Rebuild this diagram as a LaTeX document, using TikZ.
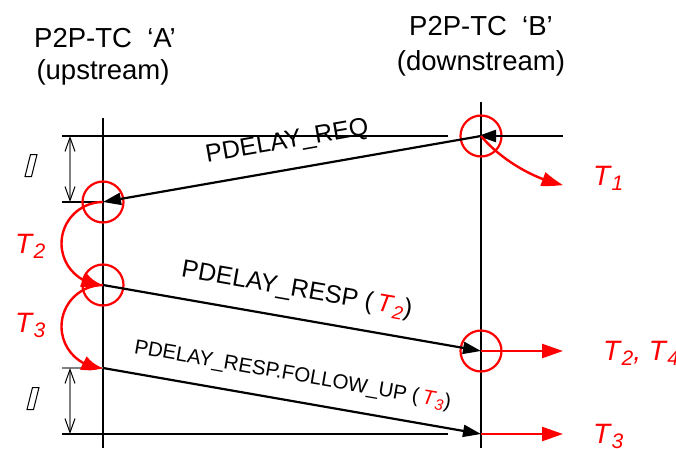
\documentclass[tikz,border=0pt]{standalone}
\usepackage{fontspec}
\setmainfont{Liberation Sans}
\usepackage{graphicx}
\usetikzlibrary{arrows.meta,bending}

% italic timestamp with a lowered, reduced index
\newcommand\tsub[2]{\textit{#1\kern0.05em\raisebox{-0.2em}{\scalebox{0.75}{#2}}}}

\begin{document}
\begin{tikzpicture}[x=1pt,y=1pt,
  lifeline/.style={line width=2pt},
  msgline/.style={line width=2.2pt, -{Triangle[length=18pt,width=12pt]}},
  thinline/.style={line width=1.1pt},
  dimline/.style={line width=1.2pt, gray,
    {Straight Barb[length=14pt,width=10pt,black,line width=1pt]}-{Straight Barb[length=14pt,width=10pt,black,line width=1pt]}},
  evt/.style={circle, draw=red, line width=2.2pt, minimum size=41pt, inner sep=0pt},
  stamp/.style={red, line width=2.4pt, -{Triangle[length=21pt,width=14pt]}},
  bentstamp/.style={red, line width=2.4pt, -{Triangle[length=21pt,width=14pt,bend]}},
  stamplabel/.style={red, font=\fontsize{28}{30}\selectfont, inner sep=0pt, anchor=base west},
  title/.style={font=\fontsize{27.5}{30}\selectfont, inner sep=0pt, anchor=base},
  msglabel/.style={font=\fontsize{25}{28}\selectfont, inner sep=0pt, sloped, anchor=base},
  smallmsglabel/.style={msglabel, font=\fontsize{20.5}{24}\selectfont},
  gapmark/.style={draw, line width=1pt, line join=miter}
]
\useasboundingbox (0,0) rectangle (676,448);

% lifelines
\coordinate (topA) at (103,330);
\coordinate (botA) at (103,0);
\coordinate (topB) at (481,346);
\coordinate (botB) at (481,0);
\draw[lifeline] (topA) -- (botA);
\draw[lifeline] (topB) -- (botB);

% event points
\coordinate (B1) at (481,312);
\coordinate (A1) at (103,246);
\coordinate (A2) at (103,163);
\coordinate (B2) at (481,97);
\coordinate (A3) at (103,80);
\coordinate (B3) at (481,14);

% headings
\node[title] (hA1) at (105,400) {P2P-TC~~‘A’};
\node[title] (hA2) at (103,368) {(upstream)};
\node[title] (hB1) at (481,412) {P2P-TC~~‘B’};
\node[title] (hB2) at (481,377) {(downstream)};

% reference lines and residence-time dimensions
\coordinate (r1l) at (62,312);  \coordinate (r1r) at (448,312);
\coordinate (r2l) at (62,246);
\coordinate (r3l) at (62,80);
\coordinate (r4l) at (62,14);   \coordinate (r4r) at (448,14);
\draw[thinline] (r1l) -- (r1r);
\draw[thinline] (r2l) -- (A1);
\draw[thinline, gray] (r3l) -- (A3);
\draw[thinline] (r4l) -- (r4r);

\coordinate (d1t) at (70,312); \coordinate (d1b) at (70,246);
\coordinate (d2t) at (70,80);  \coordinate (d2b) at (70,14);
\draw[dimline] (d1t) -- (d1b);
\draw[dimline] (d2t) -- (d2b);

\draw[gapmark, shift={(31,282.5)}] (-0.5,11) -- (6,11) -- (0.5,-11) -- (-6,-11) -- cycle;
\draw[gapmark, shift={(33,49.5)}] (-0.5,11) -- (6,11) -- (0.5,-11) -- (-6,-11) -- cycle;

% event circles
\node[evt] (cB1) at (B1) {};
\node[evt] (cA1) at (A1) {};
\node[evt] (cA2) at (A2) {};
\node[evt] (cB2) at (B2) {};

% messages
\coordinate (inB) at (563,312);
\draw[msgline, shorten >=-3pt] (inB) -- (B1);
\draw[msgline] (B1) -- (A1);
\draw[msgline] (A2) -- (B2);
\draw[msgline] (A3) -- (B3);

\path (A1) -- (B1) node[msglabel, pos=0.5, yshift=21pt] (lreq) {PDELAY\_REQ};
\path (A2) -- (B2) node[msglabel, pos=0.5, yshift=21.5pt] (lresp)
  {PDELAY\_RESP (\,{\color{red}\tsub T2})};
\path (A3) -- (B3) node[smallmsglabel, pos=0.49, yshift=20pt] (lfup)
  {PDELAY\_RESP.FOLLOW\_UP (\,{\color{red}\tsub T3})};

% timestamps
\coordinate (t1) at (563,263);
\coordinate (t24) at (563,97);
\coordinate (t3) at (563,14);
\draw[bentstamp] (B1) .. controls (497,292.7) and (528.7,270) .. (t1);
\draw[stamp] (B2) -- (t24);
\draw[stamp] (B3) -- (t3);
\draw[bentstamp] (A1) arc[start angle=90, end angle=270, radius=41.5];
\draw[bentstamp] (A2) arc[start angle=90, end angle=270, radius=41.5];

\node[stamplabel] (lt1) at (593,263) {\tsub T1};
\node[stamplabel] (lt24) at (603,88) {\tsub T2\textit{,} \tsub T4};
\node[stamplabel] (lt3) at (593,5) {\tsub T3};
\node[stamplabel] (lt2a) at (15,195) {\tsub T2};
\node[stamplabel] (lt3a) at (15,116) {\tsub T3};
\end{tikzpicture}
\end{document}
